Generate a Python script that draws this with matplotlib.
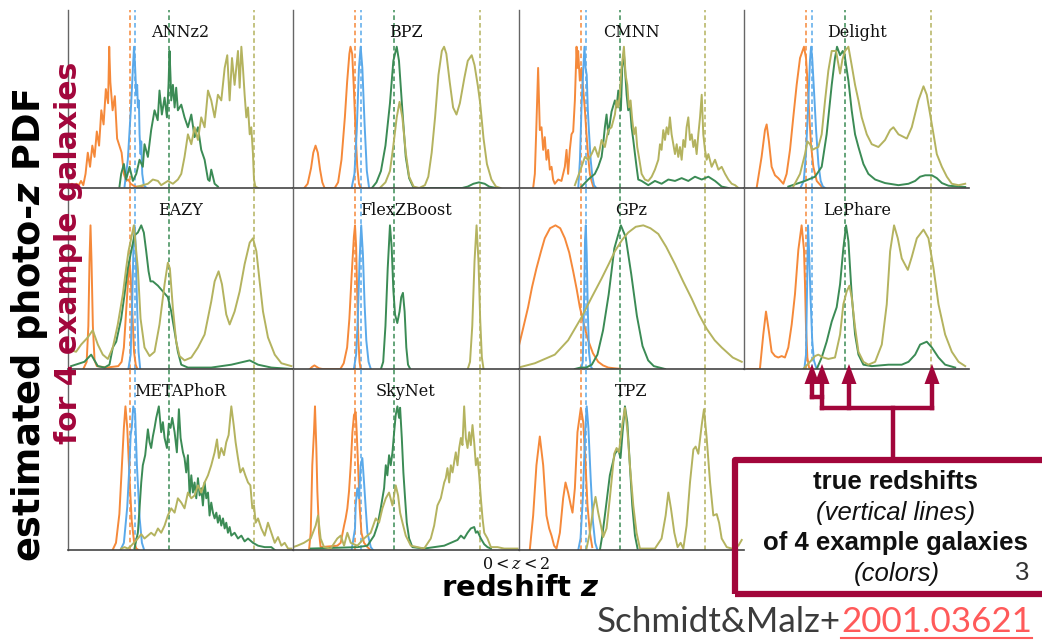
import matplotlib
matplotlib.use("Agg")
import matplotlib.pyplot as plt
from matplotlib.lines import Line2D
from matplotlib.patches import Rectangle, Polygon

# ---------------- data ----------------
methods = ["ANNz2", "BPZ", "CMNN", "Delight", "EAZY", "FlexZBoost",
           "GPz", "LePhare", "METAPhoR", "SkyNet", "TPZ"]
galaxy_colors = ["#f5893a", "#5aa9ea", "#3b8b55", "#b4b35f"]
true_z = [0.55, 0.60, 0.90, 1.655]
z_label = r"$0 < z < 2$"

annz2_orange_z = [0.0,0.02,0.04,0.06,0.08,0.10,0.12,0.14,0.16,0.18,0.20,0.22,0.24,0.26,0.28,0.30,0.32,0.34,0.36,0.37,0.38,0.40,0.42,0.44,0.46,0.48,0.50,0.52,0.54,0.56,0.58,0.60,0.64,0.70]
annz2_orange_p = [0.0,0.02,0.03,0.01,0.03,0.02,0.05,0.02,0.10,0.25,0.15,0.30,0.22,0.40,0.30,0.55,0.45,0.70,0.60,1.0,0.75,0.55,0.65,0.35,0.30,0.25,0.10,0.05,0.06,0.03,0.02,0.01,0.01,0.0]
annz2_blue_z = [0.506,0.535,0.565,0.58,0.59,0.60,0.61,0.618,0.624,0.633,0.639,0.648,0.654,0.663,0.677,0.70]
annz2_blue_p = [0.01,0.2,0.6,0.85,1.0,0.85,0.66,0.73,0.57,0.62,0.38,0.24,0.33,0.1,0.02,0.0]
annz2_green_z = [0.461,0.476,0.50,0.52,0.55,0.58,0.61,0.639,0.668,0.683,0.713,0.742,0.772,0.80,0.816,0.837,0.861,0.882,0.896,0.905,0.914,0.92,0.935,0.95,0.964,0.979,1.009,1.038,1.068,1.098,1.127,1.157,1.186,1.216,1.246,1.26,1.275,1.305,1.334]
annz2_green_p = [0.01,0.1,0.17,0.06,0.15,0.05,0.1,0.2,0.15,0.31,0.22,0.41,0.55,0.48,0.69,0.52,0.64,0.5,0.73,0.97,0.78,0.62,0.73,0.57,0.71,0.55,0.59,0.5,0.43,0.52,0.36,0.43,0.27,0.2,0.06,0.05,0.13,0.03,0.01]
annz2_olive_z = [0.624,0.713,0.757,0.802,0.831,0.89,0.935,0.979,1.009,1.038,1.068,1.098,1.127,1.157,1.186,1.216,1.246,1.275,1.305,1.334,1.364,1.394,1.417,1.438,1.459,1.482,1.497,1.512,1.527,1.542,1.556,1.571,1.586,1.601,1.616,1.63,1.645,1.654,1.666,1.69]
annz2_olive_p = [0.01,0.03,0.06,0.05,0.02,0.05,0.03,0.06,0.1,0.22,0.38,0.31,0.43,0.34,0.5,0.43,0.69,0.62,0.5,0.66,0.62,0.85,0.94,0.62,0.92,0.73,0.85,0.97,0.71,1.0,0.85,0.66,0.5,0.57,0.38,0.43,0.24,0.06,0.01,0.0]

bpz_orange_z = [0.10,0.13,0.16,0.18,0.20,0.22,0.24,0.26,0.28,0.37,0.40,0.43,0.46,0.48,0.50,0.51,0.525,0.54,0.555,0.57,0.585,0.60]
bpz_orange_p = [0.0,0.03,0.14,0.25,0.30,0.25,0.13,0.04,0.0,0.0,0.04,0.2,0.5,0.75,0.95,1.0,0.95,0.7,0.4,0.15,0.03,0.0]
bpz_blue_z = [0.52,0.545,0.565,0.585,0.60,0.615,0.635,0.655,0.675]
bpz_blue_p = [0.0,0.1,0.4,0.85,1.0,0.85,0.45,0.12,0.0]
bpz_green_z = [0.70,0.74,0.78,0.82,0.86,0.89,0.92,0.94,0.97,1.0,1.03,1.07,1.50,1.55,1.60,1.65,1.70,1.74,1.80]
bpz_green_p = [0.0,0.04,0.12,0.3,0.6,0.9,1.0,0.9,0.55,0.22,0.07,0.0,0.0,0.01,0.03,0.04,0.03,0.01,0.0]
bpz_olive_z = [0.77,0.82,0.86,0.89,0.92,0.945,0.97,1.0,1.03,1.07,1.12,1.17,1.20,1.23,1.26,1.29,1.32,1.34,1.36,1.39,1.42,1.45,1.48,1.52,1.55,1.585,1.61,1.64,1.66,1.69,1.72,1.76,1.80,1.84]
bpz_olive_p = [0.0,0.04,0.12,0.3,0.5,0.61,0.5,0.25,0.08,0.01,0.0,0.02,0.08,0.25,0.5,0.8,0.97,1.0,0.95,0.75,0.57,0.52,0.6,0.78,0.9,0.94,0.87,0.72,0.6,0.35,0.17,0.06,0.01,0.0]

cmnn_orange_z = [0.13,0.145,0.159,0.174,0.189,0.204,0.219,0.233,0.248,0.263,0.278,0.293,0.307,0.322,0.352,0.381,0.411,0.426,0.44,0.455,0.47,0.485,0.50,0.515,0.523,0.529,0.544,0.559,0.574,0.589,0.603,0.618,0.633,0.648,0.663]
cmnn_orange_p = [0.0,0.1,0.45,0.85,0.41,0.43,0.27,0.36,0.2,0.27,0.13,0.15,0.06,0.03,0.06,0.05,0.15,0.27,0.1,0.27,0.38,0.4,0.62,1.0,0.85,0.97,0.76,0.85,0.7,0.55,0.38,0.22,0.1,0.05,0.01]
cmnn_blue_z = [0.53,0.545,0.56,0.575,0.585,0.595,0.605,0.615,0.625,0.64,0.655,0.67,0.69]
cmnn_blue_p = [0.0,0.2,0.6,0.85,1.0,0.85,0.8,0.55,0.4,0.2,0.08,0.02,0.0]
cmnn_green_z = [0.559,0.618,0.677,0.707,0.737,0.751,0.766,0.781,0.796,0.825,0.855,0.87,0.885,0.908,0.92,0.935,0.944,0.959,0.973,0.988,1.003,1.018,1.033,1.047,1.062,1.092,1.151,1.21,1.269,1.329,1.388,1.447,1.506,1.565,1.625,1.684,1.743,1.773,1.802,1.862]
cmnn_green_p = [0.01,0.06,0.1,0.15,0.22,0.31,0.43,0.52,0.38,0.54,0.62,0.57,0.69,0.55,0.85,0.95,0.85,0.66,0.55,0.59,0.43,0.34,0.24,0.15,0.06,0.05,0.02,0.05,0.03,0.06,0.05,0.07,0.05,0.08,0.06,0.08,0.05,0.03,0.01,0.0]
cmnn_olive_z = [0.50,0.559,0.589,0.618,0.648,0.677,0.707,0.737,0.766,0.796,0.825,0.855,0.87,0.885,0.899,0.914,0.935,0.95,0.965,0.979,0.994,1.009,1.024,1.039,1.053,1.068,1.092,1.121,1.151,1.181,1.21,1.24,1.255,1.269,1.284,1.299,1.314,1.329,1.343,1.358,1.373,1.388,1.403,1.417,1.432,1.447,1.462,1.477,1.491,1.506,1.521,1.536,1.551,1.565,1.58,1.595,1.61,1.625,1.639,1.654,1.669,1.684,1.713,1.743,1.773,1.802,1.832,1.861,1.891,1.921,1.95]
cmnn_olive_p = [0.02,0.15,0.22,0.2,0.24,0.29,0.22,0.34,0.29,0.41,0.43,0.52,0.62,0.57,0.66,0.85,1.0,0.8,0.73,0.57,0.62,0.48,0.38,0.43,0.29,0.22,0.1,0.06,0.05,0.08,0.13,0.2,0.31,0.27,0.41,0.34,0.43,0.38,0.5,0.38,0.31,0.24,0.31,0.22,0.29,0.2,0.34,0.29,0.43,0.5,0.34,0.38,0.29,0.34,0.24,0.38,0.5,0.66,0.38,0.27,0.2,0.24,0.15,0.2,0.13,0.15,0.1,0.06,0.03,0.02,0.0]

delight_orange_z = [0.112,0.156,0.186,0.201,0.221,0.245,0.275,0.304,0.349,0.378,0.408,0.437,0.467,0.497,0.532,0.55,0.565,0.58,0.594,0.615,0.645,0.689]
delight_orange_p = [0.0,0.22,0.41,0.45,0.33,0.15,0.09,0.07,0.03,0.1,0.27,0.5,0.73,0.92,1.0,0.92,0.73,0.5,0.31,0.15,0.05,0.01]
delight_blue_z = [0.50,0.53,0.55,0.57,0.585,0.595,0.605,0.62,0.64,0.66,0.68,0.70,0.72]
delight_blue_p = [0.0,0.05,0.25,0.6,0.9,1.0,0.92,0.7,0.4,0.17,0.05,0.01,0.0]
delight_green_z = [0.393,0.541,0.63,0.689,0.733,0.778,0.807,0.825,0.852,0.876,0.896,0.926,0.955,0.985,1.015,1.059,1.103,1.163,1.251,1.37,1.459,1.518,1.562,1.607,1.666,1.71,1.755,1.814,1.962]
delight_green_p = [0.01,0.05,0.08,0.15,0.38,0.73,0.92,1.0,0.94,0.97,0.92,0.76,0.55,0.38,0.29,0.17,0.1,0.06,0.035,0.02,0.03,0.05,0.08,0.09,0.09,0.07,0.035,0.016,0.007]
delight_olive_z = [0.437,0.497,0.541,0.562,0.585,0.606,0.63,0.659,0.689,0.719,0.748,0.778,0.816,0.852,0.873,0.896,0.926,0.955,0.985,1.015,1.044,1.089,1.133,1.192,1.251,1.296,1.325,1.37,1.444,1.488,1.547,1.592,1.621,1.651,1.681,1.71,1.755,1.799,1.843,1.903,1.962]
delight_olive_p = [0.01,0.1,0.24,0.33,0.31,0.27,0.28,0.29,0.38,0.62,0.83,0.97,0.97,0.81,0.91,0.97,1.0,0.87,0.73,0.62,0.5,0.38,0.31,0.29,0.34,0.41,0.43,0.38,0.35,0.43,0.62,0.72,0.66,0.52,0.38,0.24,0.15,0.08,0.03,0.02,0.03]

eazy_orange_z = [0.14,0.17,0.185,0.195,0.204,0.213,0.225,0.24,0.26,0.35,0.45,0.48,0.50,0.52,0.54,0.55,0.56,0.575,0.59,0.605,0.62]
eazy_orange_p = [0.0,0.05,0.3,0.75,1.0,0.75,0.3,0.06,0.02,0.01,0.02,0.05,0.15,0.4,0.65,0.75,0.65,0.4,0.12,0.03,0.0]
eazy_blue_z = [0.54,0.56,0.575,0.585,0.595,0.605,0.615,0.63,0.645]
eazy_blue_p = [0.0,0.1,0.5,0.85,1.0,0.85,0.5,0.12,0.0]
eazy_green_z = [0.032,0.15,0.21,0.269,0.328,0.372,0.402,0.432,0.476,0.506,0.535,0.565,0.594,0.624,0.654,0.677,0.698,0.719,0.736,0.757,0.802,0.846,0.89,0.92,0.95,0.979,1.009,1.068,1.275,1.453,1.616,1.69,1.808,1.986]
eazy_green_p = [0.02,0.05,0.1,0.02,0.01,0.03,0.15,0.19,0.35,0.52,0.7,0.82,0.93,0.95,1.0,0.95,0.82,0.68,0.61,0.61,0.58,0.54,0.5,0.4,0.26,0.12,0.03,0.01,0.01,0.03,0.06,0.03,0.01,0.0]
eazy_olive_z = [0.032,0.076,0.121,0.18,0.224,0.269,0.313,0.358,0.402,0.446,0.491,0.52,0.541,0.565,0.588,0.624,0.648,0.683,0.728,0.772,0.816,0.861,0.89,0.908,0.935,0.964,0.994,1.038,1.098,1.157,1.216,1.275,1.305,1.34,1.37,1.408,1.438,1.482,1.527,1.571,1.616,1.645,1.675,1.704,1.734,1.778,1.838,1.897,1.986]
eazy_olive_p = [0.13,0.12,0.17,0.22,0.27,0.17,0.1,0.07,0.15,0.31,0.52,0.7,0.82,0.91,1.0,0.7,0.35,0.15,0.09,0.12,0.31,0.59,0.74,0.7,0.42,0.19,0.09,0.06,0.08,0.15,0.24,0.47,0.61,0.68,0.59,0.38,0.31,0.4,0.54,0.73,0.88,0.91,0.82,0.61,0.4,0.22,0.1,0.04,0.02]

flex_orange_z = [0.15,0.17,0.19,0.21,0.23,0.26,0.42,0.45,0.48,0.50,0.52,0.54,0.55,0.56,0.57,0.58,0.59,0.60]
flex_orange_p = [0.0,0.015,0.025,0.015,0.005,0.0,0.0,0.04,0.15,0.35,0.65,0.92,1.0,0.85,0.5,0.2,0.05,0.0]
flex_blue_z = [0.54,0.56,0.575,0.59,0.605,0.62,0.635,0.65,0.67,0.69]
flex_blue_p = [0.0,0.1,0.35,0.75,1.0,0.8,0.45,0.2,0.05,0.0]
flex_green_z = [0.78,0.80,0.82,0.84,0.86,0.875,0.89,0.905,0.925,0.945,0.96,0.975,0.99,1.005,1.02,1.04]
flex_green_p = [0.0,0.05,0.3,0.7,1.0,0.85,0.55,0.38,0.32,0.4,0.5,0.53,0.4,0.15,0.03,0.0]
flex_olive_z = [1.55,1.57,1.59,1.61,1.628,1.645,1.66,1.675,1.69]
flex_olive_p = [0.0,0.05,0.3,0.75,1.0,0.75,0.35,0.08,0.0]

gpz_orange_z = [0.0,0.04,0.085,0.12,0.159,0.2,0.233,0.28,0.328,0.37,0.411,0.45,0.485,0.515,0.544,0.58,0.618,0.66,0.707,0.75,0.796,0.85,0.914]
gpz_orange_p = [0.15,0.28,0.43,0.57,0.7,0.82,0.91,0.98,1.0,0.98,0.91,0.81,0.68,0.56,0.43,0.31,0.2,0.11,0.05,0.025,0.01,0.005,0.0]
gpz_blue_z = [0.555,0.57,0.58,0.59,0.597,0.605,0.615,0.625,0.64,0.655]
gpz_blue_p = [0.0,0.05,0.4,0.9,1.0,0.8,0.4,0.12,0.02,0.0]
gpz_green_z = [0.5,0.55,0.6,0.65,0.7,0.75,0.8,0.85,0.908,0.95,1.0,1.05,1.1,1.15,1.2,1.3]
gpz_green_p = [0.0,0.01,0.01,0.03,0.1,0.27,0.52,0.84,1.0,0.92,0.66,0.37,0.16,0.06,0.02,0.0]
gpz_olive_z = [0.0,0.145,0.322,0.44,0.559,0.65,0.737,0.8,0.855,0.92,0.973,1.04,1.107,1.17,1.24,1.31,1.388,1.46,1.536,1.6,1.669,1.74,1.802,1.9,1.98]
gpz_olive_p = [0.01,0.04,0.1,0.2,0.36,0.5,0.63,0.73,0.82,0.9,0.95,0.99,1.0,0.98,0.94,0.85,0.73,0.61,0.49,0.38,0.28,0.2,0.15,0.08,0.05]

lephare_orange_z = [0.03,0.141,0.171,0.195,0.221,0.245,0.275,0.304,0.334,0.363,0.393,0.423,0.452,0.482,0.511,0.532,0.541,0.55,0.562,0.577,0.60]
lephare_orange_p = [0.0,0.0,0.24,0.4,0.26,0.12,0.09,0.08,0.09,0.08,0.15,0.31,0.52,0.83,1.0,0.83,0.59,0.29,0.08,0.01,0.0]
lephare_blue_z = [0.535,0.55,0.56,0.568,0.578,0.59,0.605,0.62,0.64,0.655]
lephare_blue_p = [0.0,0.1,0.6,1.0,0.8,0.5,0.2,0.06,0.01,0.0]
lephare_green_z = [0.645,0.689,0.733,0.778,0.822,0.852,0.881,0.905,0.926,0.955,0.985,1.015,1.059,1.133,1.281,1.399,1.459,1.518,1.562,1.621,1.666,1.725,1.784,1.873]
lephare_green_p = [0.0,0.08,0.19,0.33,0.43,0.59,0.84,1.0,0.89,0.52,0.24,0.1,0.03,0.02,0.03,0.03,0.05,0.1,0.17,0.19,0.15,0.08,0.03,0.01]
lephare_olive_z = [0.526,0.585,0.63,0.659,0.704,0.748,0.807,0.852,0.881,0.911,0.935,0.955,0.985,1.015,1.059,1.103,1.163,1.222,1.266,1.296,1.331,1.364,1.399,1.453,1.488,1.533,1.592,1.636,1.681,1.725,1.784,1.843,1.903,1.962]
lephare_olive_p = [0.0,0.05,0.09,0.1,0.08,0.07,0.08,0.24,0.45,0.54,0.58,0.5,0.29,0.12,0.05,0.03,0.05,0.17,0.45,0.82,1.0,0.91,0.77,0.69,0.78,0.91,0.97,0.91,0.7,0.45,0.24,0.12,0.05,0.02]

meta_orange_z = [0.40,0.43,0.46,0.48,0.50,0.514,0.53,0.55,0.57,0.59,0.61,0.63]
meta_orange_p = [0.0,0.05,0.25,0.55,0.85,1.0,0.85,0.5,0.2,0.06,0.01,0.0]
meta_blue_z = [0.47,0.50,0.53,0.55,0.56,0.57,0.583,0.60,0.615,0.64,0.66,0.68]
meta_blue_p = [0.0,0.05,0.3,0.6,0.8,0.85,1.0,0.95,0.6,0.22,0.05,0.0]
meta_green_z = [0.594,0.624,0.639,0.654,0.668,0.689,0.713,0.728,0.742,0.757,0.772,0.787,0.81,0.831,0.846,0.861,0.882,0.899,0.914,0.929,0.95,0.97,0.988,1.003,1.024,1.038,1.053,1.068,1.083,1.098,1.112,1.127,1.142,1.157,1.172,1.186,1.201,1.216,1.231,1.246,1.26,1.275,1.29,1.305,1.32,1.334,1.349,1.364,1.379,1.394,1.408,1.423,1.438,1.453,1.482,1.512,1.542,1.571,1.601,1.645,1.69,1.749,1.808,1.838]
meta_green_p = [0.01,0.12,0.29,0.47,0.59,0.66,0.84,0.75,0.71,0.79,0.85,0.92,1.0,0.82,0.89,0.78,0.71,0.88,0.85,0.92,0.82,0.68,0.98,0.78,0.68,0.64,0.54,0.66,0.38,0.52,0.40,0.47,0.36,0.50,0.38,0.43,0.31,0.47,0.36,0.40,0.24,0.33,0.26,0.22,0.26,0.19,0.24,0.17,0.22,0.15,0.19,0.12,0.16,0.10,0.12,0.08,0.10,0.06,0.08,0.05,0.03,0.02,0.02,0.0]
meta_olive_z = [0.476,0.506,0.535,0.565,0.624,0.654,0.683,0.713,0.742,0.772,0.802,0.831,0.861,0.89,0.92,0.95,0.979,1.009,1.038,1.068,1.098,1.127,1.157,1.186,1.216,1.246,1.275,1.305,1.326,1.343,1.364,1.388,1.408,1.429,1.453,1.474,1.491,1.512,1.533,1.556,1.577,1.601,1.622,1.639,1.654,1.669,1.69,1.719,1.749,1.778,1.808,1.838,1.867,1.897,1.926,1.956,1.986]
meta_olive_p = [0.01,0.02,0.01,0.03,0.08,0.11,0.08,0.1,0.12,0.1,0.15,0.12,0.17,0.24,0.29,0.26,0.36,0.33,0.29,0.40,0.36,0.38,0.45,0.40,0.47,0.52,0.59,0.68,0.77,0.64,0.71,0.66,0.75,0.80,1.0,0.87,0.75,0.64,0.54,0.57,0.52,0.47,0.45,0.29,0.31,0.19,0.22,0.15,0.10,0.19,0.12,0.05,0.09,0.03,0.05,0.01,0.01]

sky_orange_z = [0.142,0.157,0.171,0.186,0.195,0.207,0.216,0.231,0.245,0.393,0.423,0.453,0.467,0.482,0.497,0.512,0.527,0.541,0.556,0.565,0.577,0.592,0.607,0.63,0.66,0.689]
sky_orange_p = [0.0,0.12,0.59,0.82,1.0,0.71,0.41,0.12,0.02,0.03,0.05,0.17,0.22,0.29,0.41,0.59,0.82,0.94,0.96,0.82,0.59,0.29,0.12,0.05,0.02,0.0]
sky_blue_z = [0.52,0.55,0.556,0.57,0.585,0.60,0.615,0.63,0.645,0.66,0.69,0.71]
sky_blue_p = [0.0,0.15,0.31,0.43,0.36,0.59,0.64,0.47,0.29,0.12,0.02,0.0]
sky_green_z = [0.157,0.571,0.66,0.719,0.749,0.778,0.808,0.823,0.837,0.852,0.867,0.882,0.897,0.911,0.926,0.941,0.95,0.965,0.979,0.994,1.009,1.03,1.059,1.163,1.252,1.341,1.4,1.459,1.489,1.518,1.548,1.577,1.607,1.622,1.637,1.666,1.696,1.725,1.755]
sky_green_p = [0.01,0.02,0.03,0.1,0.17,0.29,0.43,0.59,0.52,0.66,0.59,0.68,0.82,0.94,1.0,0.92,0.99,0.78,0.54,0.36,0.19,0.08,0.02,0.01,0.02,0.03,0.05,0.07,0.1,0.08,0.12,0.15,0.16,0.12,0.13,0.08,0.04,0.02,0.01]
sky_olive_z = [0.0,0.038,0.097,0.157,0.201,0.222,0.245,0.275,0.334,0.393,0.423,0.453,0.482,0.512,0.571,0.63,0.689,0.734,0.763,0.793,0.823,0.852,0.882,0.911,0.932,0.95,0.971,1.0,1.045,1.163,1.222,1.252,1.281,1.311,1.341,1.355,1.37,1.385,1.4,1.415,1.429,1.444,1.459,1.474,1.489,1.503,1.518,1.533,1.548,1.563,1.577,1.592,1.607,1.622,1.637,1.651,1.666,1.681,1.696,1.725,1.755,1.814,1.873,1.933,1.992]
sky_olive_p = [0.02,0.03,0.05,0.08,0.17,0.24,0.08,0.02,0.01,0.08,0.10,0.03,0.12,0.05,0.03,0.08,0.12,0.22,0.19,0.29,0.36,0.40,0.31,0.45,0.38,0.26,0.19,0.10,0.03,0.01,0.08,0.17,0.31,0.36,0.47,0.50,0.57,0.47,0.59,0.54,0.61,0.68,0.59,0.71,0.78,0.73,1.0,0.78,0.71,0.82,0.73,0.87,0.75,0.59,0.64,0.52,0.36,0.22,0.12,0.08,0.02,0.02,0.01,0.01,0.01]

tpz_orange_z = [0.10,0.13,0.159,0.189,0.219,0.248,0.272,0.293,0.316,0.337,0.367,0.396,0.417,0.44,0.464,0.479,0.50,0.523,0.553,0.574,0.595,0.612,0.633,0.654]
tpz_orange_p = [0.0,0.24,0.59,0.79,0.59,0.24,0.15,0.1,0.03,0.01,0.12,0.36,0.47,0.4,0.31,0.26,0.43,0.82,0.99,0.89,0.59,0.31,0.12,0.02]
tpz_blue_z = [0.53,0.55,0.57,0.59,0.605,0.62,0.64,0.66,0.68,0.70]
tpz_blue_p = [0.0,0.08,0.35,0.8,1.0,0.85,0.5,0.2,0.05,0.0]
tpz_green_z = [0.722,0.743,0.766,0.81,0.855,0.885,0.905,0.923,0.944,0.965,0.988,1.009,1.033,1.056]
tpz_green_p = [0.0,0.1,0.24,0.52,0.67,0.7,0.64,0.82,1.0,0.89,0.59,0.31,0.1,0.01]
tpz_olive_z = [0.603,0.633,0.663,0.683,0.707,0.731,0.751,0.781,0.81,0.849,0.87,0.891,0.92,0.944,0.967,0.988,1.018,1.047,1.077,1.21,1.269,1.305,1.329,1.352,1.382,1.411,1.438,1.462,1.491,1.521,1.551,1.571,1.595,1.625,1.645,1.669,1.699,1.728,1.758,1.779,1.802,1.847,1.891,1.95,1.98]
tpz_olive_p = [0.01,0.12,0.29,0.37,0.26,0.17,0.09,0.15,0.36,0.67,0.71,0.68,0.87,0.99,0.82,0.59,0.31,0.12,0.01,0.01,0.08,0.24,0.4,0.29,0.12,0.02,0.05,0.01,0.17,0.47,0.7,0.72,0.67,0.87,0.98,0.78,0.47,0.24,0.25,0.19,0.08,0.02,0.01,0.03,0.07]

panel_curves = [
    [(annz2_orange_z, annz2_orange_p), (annz2_blue_z, annz2_blue_p), (annz2_green_z, annz2_green_p), (annz2_olive_z, annz2_olive_p)],
    [(bpz_orange_z, bpz_orange_p), (bpz_blue_z, bpz_blue_p), (bpz_green_z, bpz_green_p), (bpz_olive_z, bpz_olive_p)],
    [(cmnn_orange_z, cmnn_orange_p), (cmnn_blue_z, cmnn_blue_p), (cmnn_green_z, cmnn_green_p), (cmnn_olive_z, cmnn_olive_p)],
    [(delight_orange_z, delight_orange_p), (delight_blue_z, delight_blue_p), (delight_green_z, delight_green_p), (delight_olive_z, delight_olive_p)],
    [(eazy_orange_z, eazy_orange_p), (eazy_blue_z, eazy_blue_p), (eazy_green_z, eazy_green_p), (eazy_olive_z, eazy_olive_p)],
    [(flex_orange_z, flex_orange_p), (flex_blue_z, flex_blue_p), (flex_green_z, flex_green_p), (flex_olive_z, flex_olive_p)],
    [(gpz_orange_z, gpz_orange_p), (gpz_blue_z, gpz_blue_p), (gpz_green_z, gpz_green_p), (gpz_olive_z, gpz_olive_p)],
    [(lephare_orange_z, lephare_orange_p), (lephare_blue_z, lephare_blue_p), (lephare_green_z, lephare_green_p), (lephare_olive_z, lephare_olive_p)],
    [(meta_orange_z, meta_orange_p), (meta_blue_z, meta_blue_p), (meta_green_z, meta_green_p), (meta_olive_z, meta_olive_p)],
    [(sky_orange_z, sky_orange_p), (sky_blue_z, sky_blue_p), (sky_green_z, sky_green_p), (sky_olive_z, sky_olive_p)],
    [(tpz_orange_z, tpz_orange_p), (tpz_blue_z, tpz_blue_p), (tpz_green_z, tpz_green_p), (tpz_olive_z, tpz_olive_p)],
]

# ---------------- figure ----------------
W, H = 1042, 640
fig = plt.figure(figsize=(W / 100, H / 100), dpi=100)
fig.patch.set_facecolor("white")
DARKRED = "#a2063b"


def fx(px):
    return px / W


def fy(py):
    return 1 - py / H


col_left = [67.5 + 225.5 * i for i in range(4)]
col_w = 225.5
row_top = [10, 188, 369]
row_bot = [188, 369, 550]

for k, name in enumerate(methods):
    r, c = divmod(k, 4)
    ax = fig.add_axes([fx(col_left[c]), fy(row_bot[r]), col_w / W, (row_bot[r] - row_top[r]) / H])
    ax.set_xlim(0, 2)
    ax.set_ylim(0, 1.26)
    ax.set_xticks([])
    ax.set_yticks([])
    ax.patch.set_alpha(0)
    for s in ("top", "right"):
        ax.spines[s].set_visible(False)
    ax.spines["left"].set_color("#666666")
    ax.spines["bottom"].set_color("#444444")
    ax.spines["left"].set_linewidth(1.0)
    ax.spines["bottom"].set_linewidth(1.2)
    for zt, col in zip(true_z, galaxy_colors):
        ax.axvline(zt, color=col, ls=(0, (3, 2)), lw=1.1, zorder=1)
    for (zz, pp), col in zip(panel_curves[k], galaxy_colors):
        ax.plot(zz, pp, color=col, lw=1.4, zorder=2, solid_joinstyle="round")
    ax.text(0.5, 0.875, name, transform=ax.transAxes, ha="center", va="center",
            fontsize=11.5, family="DejaVu Serif", color="#111111", zorder=3)

# y label (two lines)
fig.text(fx(30), fy(325), r"estimated photo-$\boldsymbol{z}$ PDF", rotation=90,
         ha="center", va="center", fontsize=26.5, fontweight="bold", color="black")
fig.text(fx(69), fy(253), "for 4 example galaxies", rotation=90,
         ha="center", va="center", fontsize=21.5, fontweight="bold", color=DARKRED)

# x labels
fig.text(fx(516), fy(564), z_label, ha="center", va="center", fontsize=11.5,
         math_fontfamily="dejavuserif", color="#111111")
fig.text(fx(520), fy(588), r"redshift $\boldsymbol{z}$", ha="center", va="center",
         fontsize=21, fontweight="bold", color="black")

# annotation box
box = Rectangle((fx(735), fy(594)), fx(1070) - fx(735), fy(460) - fy(594),
                transform=fig.transFigure, fill=False, edgecolor=DARKRED,
                lw=4.5, joinstyle="round", clip_on=False)
fig.patches.append(box)
fig.text(fx(895), fy(482), "true redshifts", ha="center", va="center", fontsize=18.5,
         fontweight="bold", family="Liberation Sans", color="#111111")
fig.text(fx(896), fy(513), "(vertical lines)", ha="center", va="center", fontsize=18.5,
         style="italic", family="Liberation Sans", color="#111111")
fig.text(fx(895), fy(543), "of 4 example galaxies", ha="center", va="center", fontsize=18.5,
         fontweight="bold", family="Liberation Sans", color="#111111")
fig.text(fx(897), fy(574), "(colors)", ha="center", va="center", fontsize=18.5,
         style="italic", family="Liberation Sans", color="#111111")
fig.text(fx(1022), fy(573), "3", ha="center", va="center", fontsize=18.5,
         family="Liberation Sans", color="#333333")

# arrows from box to the true redshifts
segs = [
    [(893, 460), (893, 408)],
    [(822, 408), (932, 408)],
    [(822, 380), (822, 408)],
    [(849, 380), (849, 408)],
    [(932, 380), (932, 408)],
    [(812, 380), (812, 397)],
    [(812, 397), (822, 397)],
]
for seg in segs:
    (x0, y0), (x1, y1) = seg
    fig.add_artist(Line2D([fx(x0), fx(x1)], [fy(y0), fy(y1)], color=DARKRED, lw=3.2,
                          solid_capstyle="projecting", transform=fig.transFigure))
for xa in [812, 822, 849, 932]:
    fig.add_artist(Polygon([(fx(xa), fy(364)), (fx(xa - 7.5), fy(384)), (fx(xa + 7.5), fy(384))],
                           closed=True, facecolor=DARKRED, edgecolor="none",
                           transform=fig.transFigure))

# footer citation
renderer = fig.canvas.get_renderer()
t2 = fig.text(fx(1032), fy(622), "2001.03621", ha="right", va="center", fontsize=25.2,
              family="Lato", color="#ff5a5a")
bb = t2.get_window_extent(renderer=renderer)
fig.text(bb.x0 / W, fy(622), "Schmidt&Malz+", ha="right", va="center", fontsize=25.2,
         family="Lato", color="#3c3c3c")
fig.add_artist(Line2D([bb.x0 / W, bb.x1 / W], [fy(638), fy(638)], color="#ff5a5a", lw=1.5,
                      transform=fig.transFigure))

fig.savefig("out.png", dpi=100, facecolor="white")
